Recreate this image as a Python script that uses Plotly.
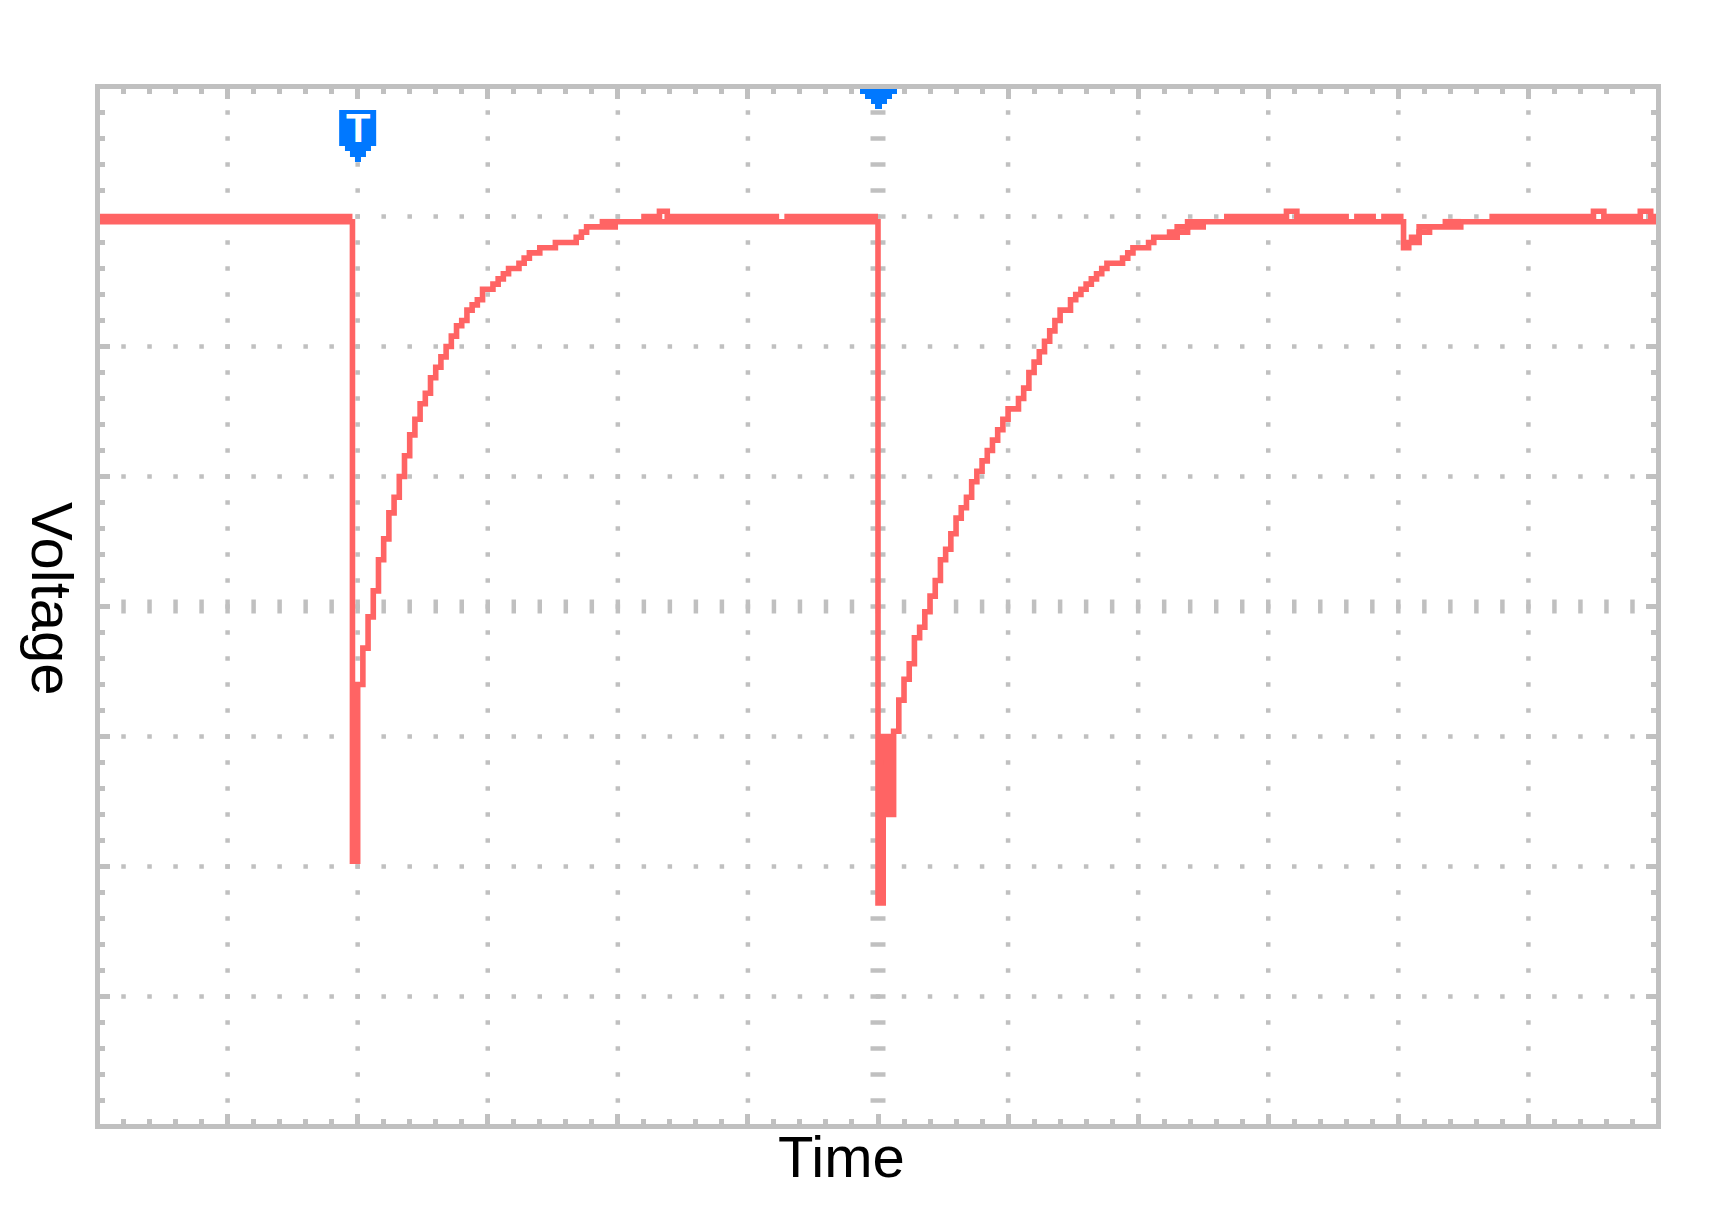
import plotly.graph_objects as go

# ---------------- data (oscilloscope record) ----------------
# x: sample index (25 samples per division, 12 divisions)
# y: ADC code (25 codes per division, 8 divisions, 0 = screen centre)
lo_samples = [0, 49, 50, 51, 52, 53, 54, 55, 56, 57, 58, 59, 60, 61, 62, 63, 64, 65, 66, 67,
              68, 69, 70, 71, 72, 73, 74, 76, 77, 78, 79, 81, 82, 83, 85, 88, 92, 93, 94, 99.5,
              150, 151, 152, 153, 154, 155, 156, 157, 158, 159, 160, 161, 162, 163, 164, 165,
              166, 167, 168, 169, 170, 171, 172, 173, 174, 175, 177, 178, 179, 180, 181, 182,
              183, 184, 185, 187, 188, 189, 190, 191, 192, 193, 194, 197, 198, 199, 202, 203,
              207.5, 209.5, 212.5, 251, 252, 254, 256, 262, 300]
lo_codes = [74, -49, -15, -8, -2, 3, 9, 13, 18, 21, 25, 29, 33, 36, 39, 41, 44, 46, 48, 50,
            52, 54, 55, 57, 58, 59, 61, 62, 63, 64, 65, 66, 67, 68, 69, 70, 71, 72, 73, 74,
            -57, -25, -40, -24, -18, -14, -11, -6, -4, -1, 2, 5, 9, 11, 14, 17,
            19, 21, 24, 26, 28, 30, 32, 34, 36, 38, 40, 42, 45, 47, 49, 51,
            53, 55, 57, 59, 60, 61, 62, 63, 64, 65, 66, 67, 68, 69, 70, 71,
            72, 73, 74, 69, 70, 72, 73, 74, 74]

# upper envelope (noise band) – segments separated by None
hi_samples = [0, 49, None, 96.5, 99.5, None, 104.5, 108, 109.5, 131, None, 132, 150, None,
              151, 153, None,
              205.5, 207.5, 209.5, 212.5, None, 216.5, 228.5, 230.5, 240.5, None, 241.5, 245.7,
              None, 246.7, 251, None, 252, 254, 256, None, 258.5, 262, None,
              267.5, 287.5, 289.5, 296.5, 298.5, 300]
hi_codes = [75, 75, None, 74, 74, None, 75, 76, 75, 75, None, 75, 75, None,
            -30, -30, None,
            72, 73, 74, 74, None, 75, 76, 75, 75, None, 75, 75,
            None, 75, 75, None, 71, 73, 73, None, 74, 74, None,
            75, 76, 75, 76, 75, 75]

trigger_sample = 50      # "T" trigger marker
center_sample = 150      # horizontal position marker
x_title = "Time"
y_title = "Voltage"

N_X, N_Y = 300, 100      # samples across screen, codes from centre to top
MAJ, MIN = 25, 5

GRID = "#c0c0c0"
TRACE = "#ff6464"
BLUE = "#0078ff"
LW = 5.6

fig = go.Figure()

# ---- graticule dots / centre axis dashes ----
minor_x = list(range(MIN, N_X, MIN))
minor_y = list(range(-N_Y + MIN, N_Y, MIN))
major_x = [s for s in range(MAJ, N_X, MAJ) if s != center_sample]
major_y = [c for c in range(-N_Y + MAJ, N_Y, MAJ) if c != 0]
dx, dy = [], []
for s in major_x:
    for c in minor_y:
        dx.append(s); dy.append(c)
for c in major_y:
    for s in minor_x:
        dx.append(s); dy.append(c)
fig.add_trace(go.Scatter(x=dx, y=dy, mode="markers", hoverinfo="skip",
                         marker=dict(symbol="square", size=4.5, color=GRID, line=dict(width=0))))
fig.add_trace(go.Scatter(x=[center_sample] * len(minor_y), y=minor_y, mode="markers", hoverinfo="skip",
                         marker=dict(symbol="line-ew", size=10.7, line=dict(width=4.5, color=GRID))))
fig.add_trace(go.Scatter(x=minor_x, y=[0] * len(minor_x), mode="markers", hoverinfo="skip",
                         marker=dict(symbol="line-ns", size=10, line=dict(width=4.5, color=GRID))))

# ---- waveform ----
fig.add_trace(go.Scatter(x=lo_samples, y=lo_codes, mode="lines",
                         line=dict(color=TRACE, width=LW, shape="hv")))
fig.add_trace(go.Scatter(x=hi_samples, y=hi_codes, mode="lines", connectgaps=False,
                         line=dict(color=TRACE, width=LW, shape="hv")))

# ---- markers ----
shield = ("M-18.5,-21 L18.5,-21 L18.5,-57 L13.3,-57 L13.3,-62 L8.3,-62 L8.3,-68 L3.3,-68 "
          "L3.3,-73 L-2.7,-73 L-2.7,-68 L-7.7,-68 L-7.7,-62 L-12.7,-62 L-12.7,-57 L-18.5,-57 Z")
tri = ("M-18,0 L19,0 L19,-5 L14,-5 L14,-10 L9,-10 L9,-15 L4,-15 L4,-20 L-3,-20 L-3,-15 "
       "L-7,-15 L-7,-10 L-13,-10 L-13,-5 L-18,-5 Z")
fig.add_shape(type="path", path=shield, xref="x", yref="paper", xsizemode="pixel",
              ysizemode="pixel", xanchor=trigger_sample, yanchor=1,
              fillcolor=BLUE, line=dict(width=0), layer="above")
fig.add_shape(type="path", path=tri, xref="x", yref="paper", xsizemode="pixel",
              ysizemode="pixel", xanchor=center_sample, yanchor=1,
              fillcolor=BLUE, line=dict(width=0), layer="above")
fig.add_annotation(x=trigger_sample, y=1, xref="x", yref="paper", text="<b>T</b>",
                   showarrow=False, xanchor="center", yanchor="middle", yshift=-39,
                   font=dict(family="Liberation Sans", size=40, color="white"))

# ---- axis titles ----
fig.add_annotation(x=0.4768, y=-0.0315, xref="paper", yref="paper", text=x_title,
                   showarrow=False, xanchor="center", yanchor="middle",
                   font=dict(family="Liberation Sans", size=58, color="black"))
fig.add_annotation(x=-0.0302, y=0.5072, xref="paper", yref="paper", text=y_title,
                   showarrow=False, xanchor="center", yanchor="middle", textangle=90,
                   font=dict(family="Liberation Sans", size=58, color="black"))

axis_common = dict(showline=True, linewidth=5, linecolor=GRID, mirror="ticks",
                   ticks="inside", tick0=0, dtick=MAJ, ticklen=10, tickwidth=4.5,
                   tickcolor=GRID, showticklabels=False, showgrid=False, zeroline=False,
                   layer="below traces", fixedrange=True,
                   minor=dict(ticks="inside", tick0=0, dtick=MIN, ticklen=5,
                              tickwidth=4.5, tickcolor=GRID, showgrid=False))
fig.update_xaxes(range=[0.48, N_X - 0.48], **axis_common)
fig.update_yaxes(range=[-N_Y + 0.48, N_Y - 0.48], **axis_common)

fig.update_layout(width=1735, height=1222, showlegend=False,
                  margin=dict(l=100, r=78.8, t=89, b=98, pad=0),
                  paper_bgcolor="white", plot_bgcolor="white")

fig.write_html("out.html", config={"displayModeBar": False},
               post_script="document.body.style.margin='0';")
